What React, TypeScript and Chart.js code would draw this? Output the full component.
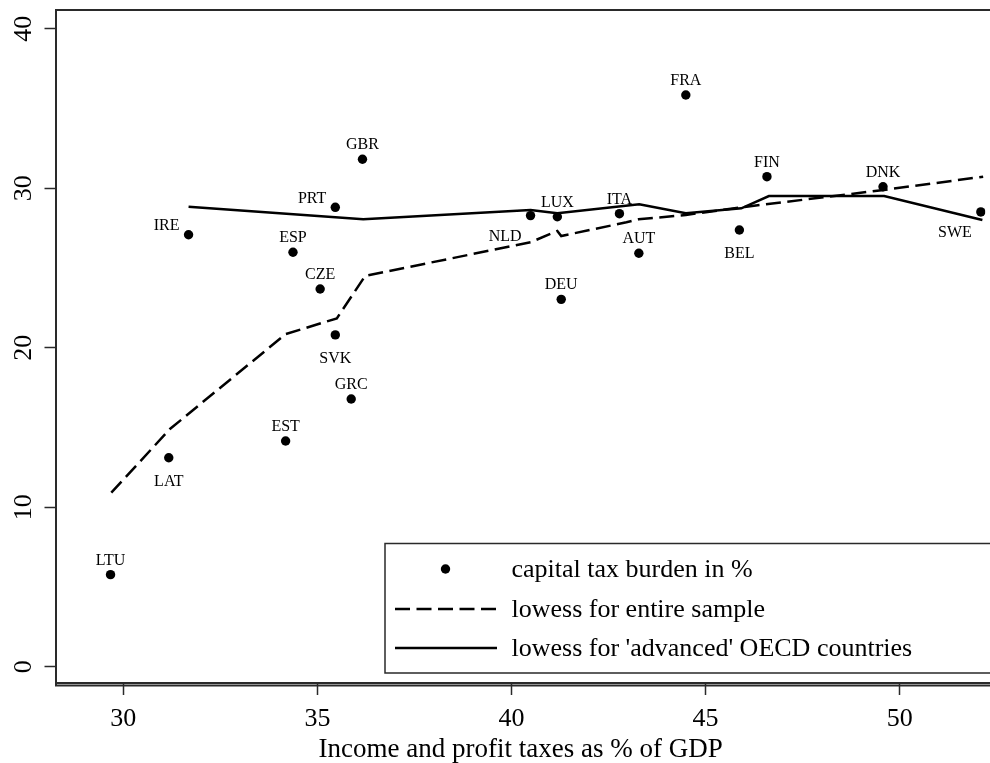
import React, { useEffect, useRef } from "react";
import { Chart, registerables } from "chart.js";
Chart.register(...registerables);

// ---- data ----
const countries = ["LTU", "LAT", "EST", "GRC", "SVK", "CZE", "ESP", "IRE", "PRT", "GBR", "NLD", "LUX", "DEU", "ITA", "AUT", "FRA", "BEL", "FIN", "DNK", "SWE"];
const incomeTax = [29.67, 31.17, 34.18, 35.87, 35.46, 35.07, 34.37, 31.68, 35.46, 36.16, 40.49, 41.18, 41.28, 42.78, 43.28, 44.49, 45.87, 46.58, 49.57, 52.09];
const capitalTax = [5.77, 13.1, 14.15, 16.78, 20.8, 23.68, 25.98, 27.08, 28.8, 31.81, 28.28, 28.21, 23.03, 28.4, 25.92, 35.84, 27.38, 30.72, 30.09, 28.51];

const lowessAllX = [29.69, 31.2, 34.18, 35.5, 36.23, 40.49, 41.18, 41.28, 42.96, 43.27, 44.49, 45.92, 49.59, 52.15];
const lowessAllY = [10.91, 14.9, 20.85, 21.84, 24.5, 26.61, 27.32, 27.0, 27.86, 28.05, 28.32, 28.8, 29.89, 30.72];

const lowessAdvX = [31.68, 36.18, 40.49, 41.18, 43.29, 44.49, 45.92, 46.63, 49.6, 52.13];
const lowessAdvY = [28.84, 28.05, 28.63, 28.43, 28.99, 28.43, 28.74, 29.51, 29.51, 28.0];

const xTicks = [30, 35, 40, 45, 50];
const yTicks = [0, 10, 20, 30, 40];

const xTitle = "Income and profit taxes as % of GDP";
const legendLabels = ["capital tax burden in %", "lowess for entire sample", "lowess for 'advanced' OECD countries"];

// label placement (clock positions, Stata style)
const labelClock: Record<string, number> = { LAT: 6, SVK: 6, BEL: 6, IRE: 10, PRT: 10, NLD: 7, SWE: 7 };

const SERIF = '"Liberation Serif", "Times New Roman", serif';
const DASH = [15, 6.5];

export default function App() {
  const ref = useRef<HTMLCanvasElement | null>(null);

  useEffect(() => {
    const canvas = ref.current;
    if (!canvas) return;

    const framePlugin = {
      id: "frame",
      beforeDatasetsDraw(chart: any) {
        const { ctx, chartArea } = chart;
        const { left, top, right, bottom } = chartArea;
        ctx.save();
        ctx.strokeStyle = "#2a2a2a";
        ctx.lineWidth = 2;
        ctx.beginPath();
        ctx.moveTo(left, bottom + 2.5);
        ctx.lineTo(left, top);
        ctx.lineTo(right + 5, top);
        ctx.moveTo(left, bottom);
        ctx.lineTo(right + 5, bottom);
        ctx.moveTo(left - 1, bottom + 2.5);
        ctx.lineTo(right + 5, bottom + 2.5);
        ctx.stroke();
        ctx.restore();
      },
    };

    const labelPlugin = {
      id: "pointLabels",
      afterDatasetsDraw(chart: any) {
        const { ctx } = chart;
        const xs = chart.scales.x;
        const ys = chart.scales.y;
        ctx.save();
        ctx.fillStyle = "#000";
        ctx.font = `16px ${SERIF}`;
        ctx.textBaseline = "alphabetic";
        countries.forEach((c, i) => {
          const px = xs.getPixelForValue(incomeTax[i]);
          const py = ys.getPixelForValue(capitalTax[i]);
          const clock = labelClock[c] ?? 12;
          if (clock === 12) {
            ctx.textAlign = "center";
            ctx.fillText(c, px, py - 10);
          } else if (clock === 6) {
            ctx.textAlign = "center";
            ctx.fillText(c, px, py + 28);
          } else if (clock === 10) {
            ctx.textAlign = "right";
            ctx.fillText(c, px - 9, py - 4.5);
          } else {
            ctx.textAlign = "right";
            ctx.fillText(c, px - 9, py + 25);
          }
        });
        ctx.restore();
      },
    };

    const legendPlugin = {
      id: "customLegend",
      afterDraw(chart: any) {
        const { ctx, width } = chart;
        const bx = 385, by = 543.5, bb = 673;
        ctx.save();
        ctx.fillStyle = "#fff";
        ctx.fillRect(bx, by, width - bx + 5, bb - by);
        ctx.strokeStyle = "#2a2a2a";
        ctx.lineWidth = 1.5;
        ctx.beginPath();
        ctx.moveTo(width + 5, by);
        ctx.lineTo(bx, by);
        ctx.lineTo(bx, bb);
        ctx.lineTo(width + 5, bb);
        ctx.stroke();

        const rows = [569, 609, 648];
        ctx.fillStyle = "#000";
        ctx.beginPath();
        ctx.arc(445.5, rows[0], 4.7, 0, Math.PI * 2);
        ctx.fill();
        ctx.strokeStyle = "#000";
        ctx.lineWidth = 2.5;
        ctx.setLineDash(DASH);
        ctx.beginPath();
        ctx.moveTo(395, rows[1]);
        ctx.lineTo(497, rows[1]);
        ctx.stroke();
        ctx.setLineDash([]);
        ctx.beginPath();
        ctx.moveTo(395, rows[2]);
        ctx.lineTo(497, rows[2]);
        ctx.stroke();

        ctx.font = `26px ${SERIF}`;
        ctx.textAlign = "left";
        ctx.textBaseline = "middle";
        legendLabels.forEach((t, i) => ctx.fillText(t, 511.5, rows[i] + 1));
        ctx.restore();
      },
    };

    const chart = new Chart(canvas, {
      type: "scatter",
      data: {
        datasets: [
          {
            label: legendLabels[1],
            data: lowessAllX.map((x, i) => ({ x, y: lowessAllY[i] })),
            showLine: true,
            borderColor: "#000",
            borderWidth: 2.5,
            borderDash: DASH,
            pointRadius: 0,
            tension: 0,
          } as any,
          {
            label: legendLabels[2],
            data: lowessAdvX.map((x, i) => ({ x, y: lowessAdvY[i] })),
            showLine: true,
            borderColor: "#000",
            borderWidth: 2.5,
            pointRadius: 0,
            tension: 0,
          } as any,
          {
            label: legendLabels[0],
            data: incomeTax.map((x, i) => ({ x, y: capitalTax[i] })),
            backgroundColor: "#000",
            borderColor: "#000",
            borderWidth: 0,
            pointRadius: 4.7,
          },
        ],
      },
      options: {
        responsive: false,
        animation: false,
        devicePixelRatio: 1,
        layout: { padding: { left: 0, right: 0, top: 10, bottom: 0 } },
        plugins: {
          legend: { display: false },
          tooltip: { enabled: false },
        },
        scales: {
          x: {
            type: "linear",
            min: 28.265,
            max: 52.205,
            afterBuildTicks: (s: any) => {
              s.ticks = xTicks.map((v) => ({ value: v }));
            },
            afterFit: (s: any) => {
              s.height = 80;
              s.paddingLeft = 0;
              s.paddingRight = 0;
            },
            border: { display: false },
            grid: {
              drawOnChartArea: false,
              drawTicks: true,
              tickLength: 12,
              tickWidth: 1.5,
              tickColor: "#2a2a2a",
            },
            ticks: {
              autoSkip: false,
              maxRotation: 0,
              minRotation: 0,
              padding: 9,
              color: "#000",
              font: { family: SERIF, size: 26 },
            },
            title: {
              display: true,
              text: xTitle,
              color: "#000",
              font: { family: SERIF, size: 27 },
              padding: { top: -3, bottom: -3 },
            },
          },
          y: {
            type: "linear",
            min: -1.022,
            max: 41.17,
            afterBuildTicks: (s: any) => {
              s.ticks = yTicks.map((v) => ({ value: v }));
            },
            afterFit: (s: any) => {
              s.width = 56;
              s.paddingTop = 0;
              s.paddingBottom = 0;
            },
            border: { display: false },
            grid: {
              drawOnChartArea: false,
              drawTicks: true,
              tickLength: 11.5,
              tickWidth: 1.5,
              tickColor: "#2a2a2a",
            },
            ticks: {
              autoSkip: false,
              minRotation: 90,
              maxRotation: 90,
              crossAlign: "center",
              padding: 7,
              color: "#000",
              font: { family: SERIF, size: 26 },
            },
          },
        },
      },
      plugins: [framePlugin, labelPlugin, legendPlugin],
    });

    return () => chart.destroy();
  }, []);

  return (
    <div style={{ position: "fixed", left: 0, top: 0, width: 990, height: 763, background: "#fff", overflow: "hidden" }}>
      <canvas ref={ref} width={990} height={763} style={{ display: "block", width: 990, height: 763 }} />
    </div>
  );
}
